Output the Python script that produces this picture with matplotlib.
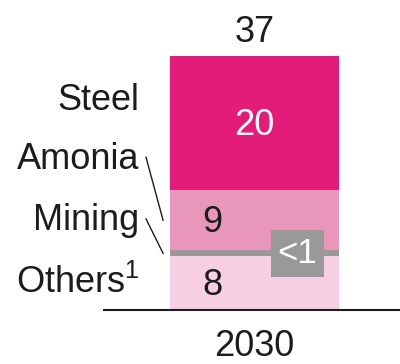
import matplotlib
matplotlib.use('Agg')

import matplotlib.pyplot as plt

plt.rcParams['font.family'] = ['Liberation Sans', 'DejaVu Sans']
plt.rcParams['mathtext.fontset'] = 'custom'
plt.rcParams['mathtext.rm'] = 'Liberation Sans'
plt.rcParams['mathtext.default'] = 'regular'

year = '2030'
segments = ['Others$^{1}$', 'Mining', 'Amonia', 'Steel']
values = [8, 0.9, 9, 20]
value_labels = ['8', '<1', '9', '20']
total_label = '37'
colors = ['#f7cfe2', '#999999', '#e896b9', '#e31c79']
text_colors = ['#1c1c1c', 'white', '#1c1c1c', 'white']

DARK = '#1c1c1c'


def main():
    fig = plt.figure(figsize=(4, 3.64), dpi=100)
    ax = fig.add_axes([0, 0, 1, 1])
    ax.set_xlim(-1.506, 0.861)
    ax.set_ylim(-8.06, 46.27)
    ax.axis('off')

    # stacked bar
    bottom = 0
    mids = []
    for val, col in zip(values, colors):
        ax.bar(0, val, width=1.0, bottom=bottom, color=col, linewidth=0)
        mids.append(bottom + val / 2.0)
        bottom += val

    # baseline
    ax.plot([-0.897, 0.861], [0, 0], color=DARK, linewidth=1.5,
            solid_capstyle='butt')

    # values inside the bar
    fs = 26
    dy = -0.3
    ax.text(-0.25, mids[0] + dy, value_labels[0], ha='center', va='center',
            fontsize=fs, color=text_colors[0])
    ax.text(-0.25, mids[2] + dy, value_labels[2], ha='center', va='center',
            fontsize=fs, color=text_colors[2])
    ax.text(0, mids[3] + dy, value_labels[3], ha='center', va='center',
            fontsize=fs, color=text_colors[3])
    ax.text(0.254, mids[1], value_labels[1], ha='center', va='center',
            fontsize=25, color=text_colors[1],
            bbox=dict(boxstyle='square,pad=0.2', facecolor=colors[1],
                      edgecolor='none'))

    # total and category
    ax.text(0, bottom + 0.95, total_label, ha='center', va='bottom',
            fontsize=fs, color=DARK)
    ax.text(0, -2.9, year, ha='center', va='top', fontsize=fs, color=DARK)

    # segment names on the left
    lx = -0.683
    ax.text(lx, 31.3, segments[3], ha='right', va='center', fontsize=fs,
            color=DARK)
    ax.text(lx, 22.4, segments[2], ha='right', va='center', fontsize=fs,
            color=DARK)
    ax.text(lx, 13.4, segments[1], ha='right', va='center', fontsize=fs,
            color=DARK)
    ax.text(lx, 4.0, segments[0], ha='right', va='center', fontsize=fs,
            color=DARK)

    # leader lines
    ax.plot([-0.642, -0.541], [22.8, mids[2]], color=DARK, linewidth=1)
    ax.plot([-0.642, -0.541], [13.6, mids[1]], color=DARK, linewidth=1)

    fig.savefig('out.png', dpi=100)


if __name__ == '__main__':
    main()
